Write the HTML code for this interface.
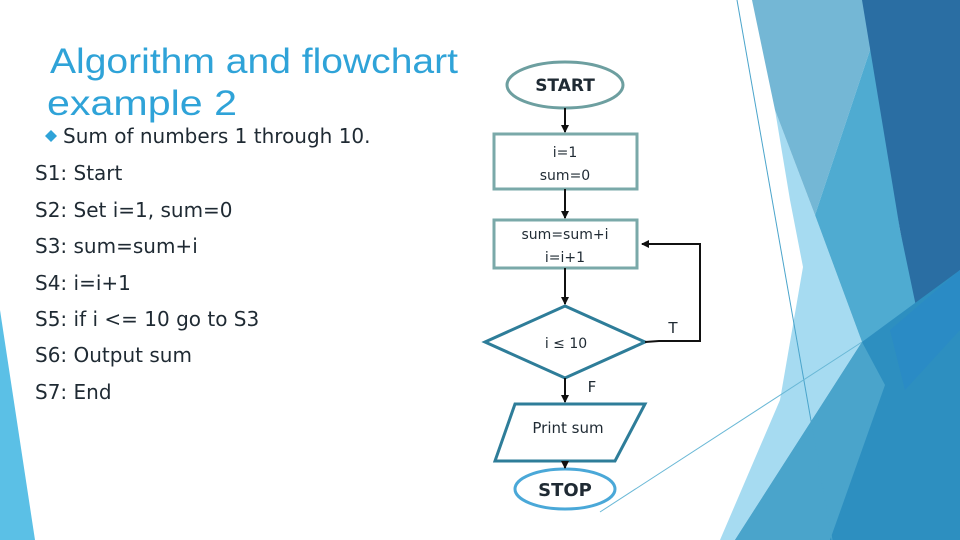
<!DOCTYPE html>
<html><head><meta charset="utf-8"><style>
html,body{margin:0;padding:0;background:#fff}
svg{display:block}
</style></head><body>
<svg width="960" height="540" viewBox="0 0 960 540" xmlns="http://www.w3.org/2000/svg" font-family="Liberation Sans, DejaVu Sans, sans-serif">
<defs>
<marker id="ah" markerWidth="8" markerHeight="8" refX="7" refY="4" orient="auto" markerUnits="userSpaceOnUse">
<path d="M0,0 L8,4 L0,8 z" fill="#111"/></marker>
</defs>
<rect width="960" height="540" fill="#fff"/>
<polygon points="0,310 35,540 0,540" fill="#5bc0e6"/>
<polygon points="775,110 815,215 862,342 735,540 720,540 780,400 803,267 790,200" fill="#a6dbf1"/>
<polygon points="752,0 868,0 870,50 815,215 775,110" fill="#74b7d5"/>
<polygon points="868,0 900,230 925,335 862,342 815,215 870,50" fill="#4fabd1"/>
<polygon points="862,0 960,0 960,270 922,335 900,230" fill="#2a6ea3"/>
<polygon points="735,540 862,342 960,270 960,540" fill="#2d8fc0"/>
<polygon points="735,540 862,342 885,385 830,540" fill="#4aa4cb"/>
<polygon points="890,330 960,270 960,330 905,390" fill="#2a89c8" opacity="0.7"/>
<line x1="737" y1="0" x2="832" y2="540" stroke="#4aa4cb" stroke-width="1"/>
<line x1="600" y1="512" x2="862" y2="342" stroke="#6ab8d6" stroke-width="1"/>
<g fill="#2fa3d8" font-size="35" font-family="Liberation Sans, sans-serif">
<text x="50" y="73" textLength="408" lengthAdjust="spacingAndGlyphs">Algorithm and flowchart</text>
<text x="47" y="115" textLength="190" lengthAdjust="spacingAndGlyphs">example 2</text>
</g>
<polygon points="45,136 51,130 57,136 51,142" fill="#2fa3d8"/>
<g fill="#1f2a33" font-size="20" font-family="DejaVu Sans, sans-serif">
<text x="63" y="143">Sum of numbers 1 through 10.</text>
<text x="35" y="180">S1: Start</text>
<text x="35" y="217">S2: Set i=1, sum=0</text>
<text x="35" y="253">S3: sum=sum+i</text>
<text x="35" y="290">S4: i=i+1</text>
<text x="35" y="326">S5: if i &lt;= 10  go to S3</text>
<text x="35" y="362">S6: Output sum</text>
<text x="35" y="399">S7: End</text>
</g>
<g fill="none" stroke-width="3">
<ellipse cx="565" cy="85" rx="58" ry="23" stroke="#6d9fa0"/>
<rect x="494" y="134" width="143" height="55" stroke="#7aa9a9"/>
<rect x="494" y="220" width="143" height="48" stroke="#7aa9a9"/>
<polygon points="565,306 645,342 565,378 485,342" stroke="#2e7d99"/>
<polygon points="515,404 645,404 615,461 495,461" stroke="#2e7d99"/>
<ellipse cx="565" cy="489" rx="50" ry="20" stroke="#4aa8d8"/>
</g>
<g stroke="#111" stroke-width="2" fill="none">
<line x1="565" y1="108" x2="565" y2="132" marker-end="url(#ah)"/>
<line x1="565" y1="189" x2="565" y2="218" marker-end="url(#ah)"/>
<line x1="565" y1="268" x2="565" y2="304" marker-end="url(#ah)"/>
<line x1="565" y1="378" x2="565" y2="402" marker-end="url(#ah)"/>
<line x1="565" y1="461" x2="565" y2="468" marker-end="url(#ah)"/>
<polyline points="645,342 659,341 700,341 700,244 642,244" marker-end="url(#ah)"/>
</g>
<g fill="#1f2a33" font-size="15" text-anchor="middle" font-family="DejaVu Sans, sans-serif">
<text x="565" y="91" font-size="17" font-weight="bold">START</text>
<text x="565" y="157" font-size="14">i=1</text>
<text x="565" y="180" font-size="14">sum=0</text>
<text x="565" y="239" font-size="14">sum=sum+i</text>
<text x="565" y="262" font-size="14">i=i+1</text>
<text x="566" y="348" font-size="14">i ≤ 10</text>
<text x="568" y="433">Print sum</text>
<text x="565" y="496" font-size="18" font-weight="bold">STOP</text>
<text x="592" y="392">F</text>
<text x="673" y="333">T</text>
</g>
</svg>
</body></html>
